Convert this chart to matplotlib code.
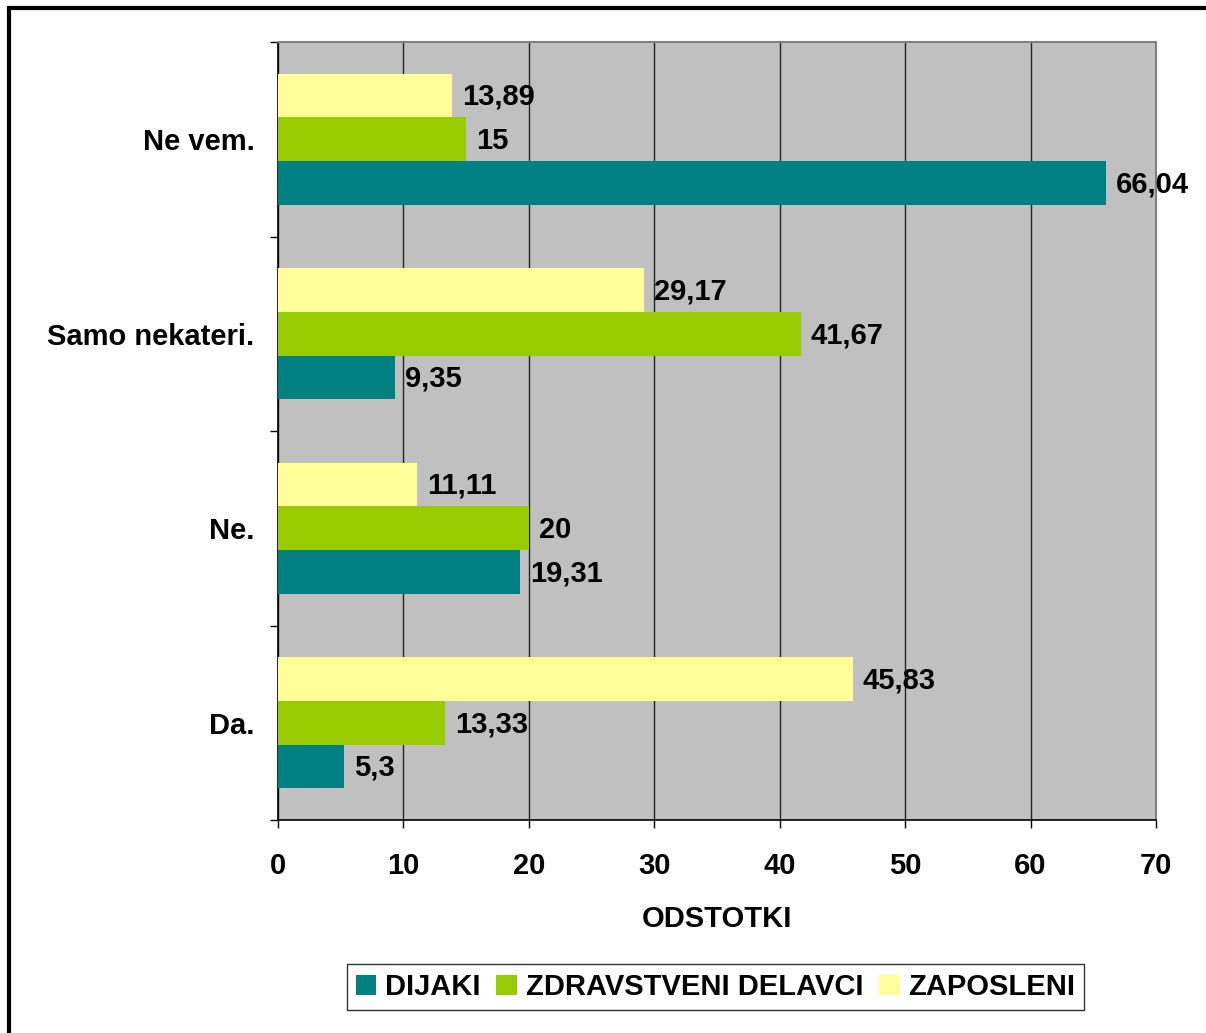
import matplotlib
matplotlib.use("Agg")
import matplotlib.pyplot as plt
from matplotlib.patches import Rectangle
import numpy as np

categories = ["Da.", "Ne.", "Samo nekateri.", "Ne vem."]
dijaki = [5.3, 19.31, 9.35, 66.04]
zdravstveni = [13.33, 20, 41.67, 15]
zaposleni = [45.83, 11.11, 29.17, 13.89]
series_names = ["DIJAKI", "ZDRAVSTVENI DELAVCI", "ZAPOSLENI"]
colors = ["#008080", "#99CC00", "#FFFF99"]
xticks = [0, 10, 20, 30, 40, 50, 60, 70]

plt.rcParams['font.family'] = ['Liberation Sans', 'DejaVu Sans']
plt.rcParams['font.weight'] = 'bold'
FS = 21

fig = plt.figure(figsize=(12.06, 10.33), dpi=100)
ax = fig.add_axes([278/1206, 1-820/1033, (1156-278)/1206, (820-42)/1033])
ax.set_facecolor("#C0C0C0")

y = np.arange(len(categories))
h = 0.225
series = [dijaki, zdravstveni, zaposleni]
offsets = [-h, 0, h]
for vals, col, off, name in zip(series, colors, offsets, series_names):
    bars = ax.barh(y + off, vals, height=h, color=col, label=name, zorder=3)
    for b, v in zip(bars, vals):
        txt = ("%g" % v).replace(".", ",")
        ax.annotate(txt, (b.get_width(), b.get_y() + b.get_height()/2),
                    xytext=(7, -1), textcoords="offset points",
                    ha="left", va="center", fontsize=FS, fontweight="bold", zorder=5)

ax.set_xlim(0, 70)
ax.set_ylim(-0.5, len(categories) - 0.5)
ax.set_xticks(xticks)
ax.set_xticklabels([str(t) for t in xticks], fontsize=FS, fontweight="bold")
ax.tick_params(axis="x", length=6, width=1, pad=17, direction="out")
ax.xaxis.grid(True, color="#222222", linewidth=1.0, zorder=1)
ax.set_axisbelow(True)

ax.set_yticks(np.arange(-0.5, len(categories), 1.0))
ax.set_yticklabels([])
ax.tick_params(axis="y", which="major", length=6, width=1, direction="out")
ax.set_yticks(y, minor=True)
ax.set_yticklabels(categories, minor=True, fontsize=FS, fontweight="bold")
ax.tick_params(axis="y", which="minor", length=0, pad=17)

ax.set_xlabel("ODSTOTKI", fontsize=FS, fontweight="bold", labelpad=18)

for s in ["top", "right"]:
    ax.spines[s].set_color("#808080")
    ax.spines[s].set_linewidth(1.5)
for s in ["left", "bottom"]:
    ax.spines[s].set_color("black")
    ax.spines[s].set_linewidth(1.2)

leg = fig.legend(loc="center", bbox_to_anchor=((346+1085)/2/1206, 1-987/1033),
                 ncol=3, fontsize=FS, frameon=True, fancybox=False,
                 handlelength=0.7, handleheight=0.7, handletextpad=0.3,
                 columnspacing=0.55, borderpad=0.3, edgecolor="black")
leg.get_frame().set_linewidth(1.0)
for t in leg.get_texts():
    t.set_fontweight("bold")

fig.patches.append(Rectangle((8.5/1206, -0.2), 1.2, 1 - 8.5/1033 + 0.2,
                             transform=fig.transFigure, fill=False,
                             edgecolor="black", linewidth=3, clip_on=False))

fig.savefig("out.png", dpi=100)
